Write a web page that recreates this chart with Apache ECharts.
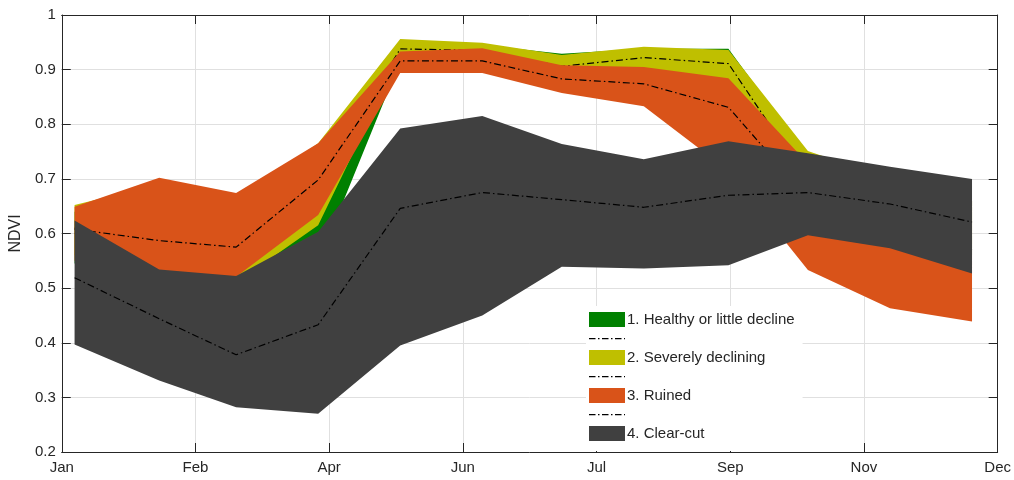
<!DOCTYPE html>
<html>
<head>
<meta charset="utf-8">
<script src="https://cdn.jsdelivr.net/npm/echarts@6/dist/echarts.min.js"></script>
<style>html,body{margin:0;padding:0;background:#fff}#c{width:1014px;height:480px}</style>
</head>
<body>
<div id="c"></div>
<script>
// Day of year of each observation
const days = [5, 38, 68, 100, 132, 164, 195, 227, 260, 291, 323, 355];
const tickLabels = ['Jan', 'Feb', 'Apr', 'Jun', 'Jul', 'Sep', 'Nov', 'Dec'];
const classNames = ['1. Healthy or little decline', '2. Severely declining', '3. Ruined', '4. Clear-cut'];
const classColors = ['#008000', '#BFBF00', '#D95319', '#404040'];

// 1. Healthy or little decline
const healthyLower = [0.545, 0.55, 0.50, 0.546, 0.915, 0.90, 0.87, 0.85, 0.80, 0.66, 0.60, 0.56];
const healthyUpper = [0.64, 0.68, 0.65, 0.70, 0.95, 0.945, 0.929, 0.938, 0.938, 0.74, 0.69, 0.66];
const healthyMean  = [0.60, 0.62, 0.58, 0.64, 0.935, 0.925, 0.90, 0.90, 0.89, 0.70, 0.65, 0.61];
// 2. Severely declining
const decliningLower = [0.56, 0.55, 0.51, 0.615, 0.925, 0.90, 0.89, 0.88, 0.86, 0.70, 0.62, 0.58];
const decliningUpper = [0.652, 0.69, 0.66, 0.765, 0.956, 0.949, 0.927, 0.942, 0.936, 0.751, 0.70, 0.66];
const decliningMean  = [0.61, 0.62, 0.59, 0.69, 0.938, 0.935, 0.906, 0.922, 0.911, 0.695, 0.65, 0.62];
// 3. Ruined
const ruinedLower = [0.55, 0.50, 0.521, 0.634, 0.894, 0.894, 0.857, 0.833, 0.715, 0.533, 0.463, 0.439];
const ruinedUpper = [0.649, 0.702, 0.674, 0.765, 0.933, 0.939, 0.908, 0.905, 0.884, 0.728, 0.69, 0.66];
const ruinedMean  = [0.608, 0.587, 0.575, 0.698, 0.916, 0.916, 0.883, 0.874, 0.831, 0.665, 0.60, 0.57];
// 4. Clear-cut
const clearLower = [0.397, 0.331, 0.282, 0.270, 0.395, 0.450, 0.539, 0.536, 0.542, 0.597, 0.573, 0.527];
const clearUpper = [0.624, 0.534, 0.522, 0.603, 0.792, 0.815, 0.764, 0.736, 0.769, 0.747, 0.722, 0.700];
const clearMean  = [0.519, 0.444, 0.378, 0.433, 0.646, 0.675, 0.662, 0.648, 0.670, 0.675, 0.654, 0.621];

const lowers = [healthyLower, decliningLower, ruinedLower, clearLower];
const uppers = [healthyUpper, decliningUpper, ruinedUpper, clearUpper];
const means  = [healthyMean, decliningMean, ruinedMean, clearMean];
const lineNames = [' ', '  ', '   ', '    '];

const axisColor = '#262626';
const fontFamily = "'Liberation Sans', Arial, Helvetica, sans-serif";
const dashIcon = 'path://M0,0M36,15M0,7h6.5v1.3h-6.5zM9,7h1.5v1.3h-1.5zM13,7h6.5v1.3h-6.5zM22,7h1.5v1.3h-1.5zM26,7h6.5v1.3h-6.5zM35,7h1v1.3h-1z';

function bandSeries(k) {
  const lo = lowers[k], up = uppers[k];
  return {
    type: 'custom',
    name: classNames[k],
    z: 2 + 2 * k,
    silent: true,
    clip: true,
    itemStyle: { color: classColors[k] },
    encode: { x: 0, y: [1, 2] },
    data: days.map((d, i) => [d, lo[i], up[i]]),
    renderItem: function (params, api) {
      if (params.dataIndex !== 0) return null;
      const pts = [];
      for (let i = 0; i < days.length; i++) pts.push(api.coord([days[i], up[i]]));
      for (let i = days.length - 1; i >= 0; i--) pts.push(api.coord([days[i], lo[i]]));
      return { type: 'polygon', shape: { points: pts }, style: { fill: classColors[k], stroke: null } };
    }
  };
}
function meanSeries(k) {
  return {
    type: 'line',
    name: lineNames[k],
    z: 3 + 2 * k,
    silent: true,
    symbol: 'none',
    color: '#000',
    lineStyle: { color: '#000', width: 1.2, type: [7, 3, 1.5, 3] },
    data: days.map((d, i) => [d, means[k][i]])
  };
}

const series = [];
for (let k = 0; k < 4; k++) { series.push(bandSeries(k)); series.push(meanSeries(k)); }

const legendData = [];
for (let k = 0; k < 4; k++) {
  legendData.push({ name: classNames[k], icon: 'rect', itemStyle: { borderWidth: 0 } });
  if (k < 3) legendData.push({ name: lineNames[k], icon: dashIcon, itemStyle: { borderWidth: 0, color: '#000' } });
}

const xStep = 365 / 7;
const baseX = {
  type: 'value', min: 0, max: 365, interval: xStep,
  axisLine: { onZero: false, lineStyle: { color: axisColor, width: 1 } },
  axisTick: { inside: true, length: 9, lineStyle: { color: axisColor } }
};
const baseY = {
  type: 'value', min: 0.2, max: 1, interval: 0.1,
  axisLine: { onZero: false, lineStyle: { color: axisColor, width: 1 } },
  axisTick: { inside: true, length: 9, lineStyle: { color: axisColor } }
};

const chart = echarts.init(document.getElementById('c'), null, { renderer: 'canvas' });
chart.setOption({
  animation: false,
  backgroundColor: '#fff',
  textStyle: { fontFamily: fontFamily },
  grid: { left: 61, right: 16, top: 15, bottom: 28, containLabel: false },
  xAxis: [
    Object.assign({}, baseX, {
      position: 'bottom',
      axisLabel: { fontSize: 15, color: axisColor, margin: 8, fontFamily: fontFamily,
        formatter: v => tickLabels[Math.round(v / xStep)] },
      splitLine: { show: true, lineStyle: { color: '#e0e0e0', width: 1 } }
    }),
    Object.assign({}, baseX, {
      position: 'top',
      axisLabel: { show: false },
      splitLine: { show: false }
    })
  ],
  yAxis: [
    Object.assign({}, baseY, {
      position: 'left',
      name: 'NDVI', nameLocation: 'middle', nameGap: 32,
      nameTextStyle: { fontSize: 16, color: axisColor, fontFamily: fontFamily },
      axisLabel: { fontSize: 15, color: axisColor, margin: 6, fontFamily: fontFamily,
        formatter: v => String(Math.round(v * 10) / 10) },
      splitLine: { show: true, lineStyle: { color: '#e0e0e0', width: 1 } }
    }),
    Object.assign({}, baseY, {
      position: 'right',
      axisLabel: { show: false },
      splitLine: { show: false }
    })
  ],
  legend: {
    orient: 'vertical',
    left: 586, top: 306,
    padding: [6, 8, 10, 3],
    backgroundColor: '#fff',
    itemWidth: 36, itemHeight: 15, itemGap: 4,
    selectedMode: false,
    z: 20,
    textStyle: { fontSize: 15, color: axisColor, fontFamily: fontFamily, padding: [0, 0, 0, -3] },
    data: legendData
  },
  series: series
});
</script>
</body>
</html>
